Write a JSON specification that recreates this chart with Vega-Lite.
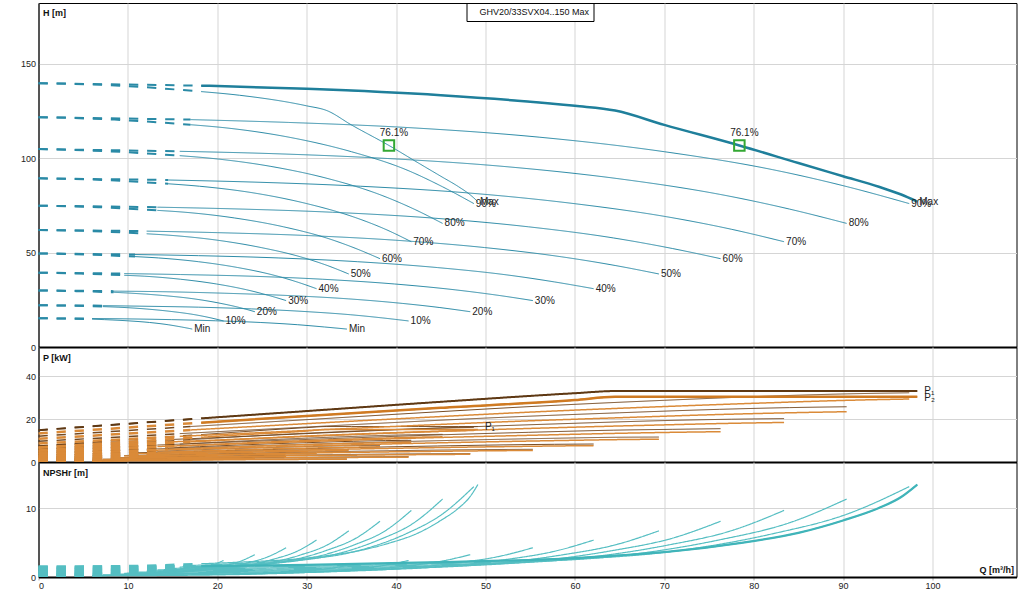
{
"$schema":"https://vega.github.io/schema/vega-lite/v6.json",
"background":"white",
"padding":{"left":19.5,"top":2,"right":10,"bottom":5},
"spacing":0,
"bounds":"flush",
"config":{
 "view":{"stroke":"black","strokeWidth":1},
 "font":"Liberation Sans",
 "axis":{"labelFont":"Liberation Sans","labelFontSize":9,"labelColor":"#222","titleFont":"Liberation Sans","titleColor":"#111","gridColor":"#d5d5d5","gridWidth":1,"domainColor":"black"},
 "text":{"font":"Liberation Sans","fontSize":10,"color":"#222"}
},
"datasets":{
"c":[
{"f":"R","s":"Max","d":"low","Q":0,"H":139.8,"P1":14.8,"P2":13.3,"N":1.5},
{"f":"R","s":"Max","d":"low","Q":18.2,"H":138.5,"P1":20.3,"P2":18.3,"N":1.58},
{"f":"R","s":"Max","d":"op","Q":18.2,"H":138.5,"P1":20.3,"P2":18.3,"N":1.58},
{"f":"R","s":"Max","d":"op","Q":30,"H":136.8,"P1":23.7,"P2":21.4,"N":1.75},
{"f":"R","s":"Max","d":"op","Q":45,"H":133.4,"P1":28.0,"P2":25.2,"N":2.15},
{"f":"R","s":"Max","d":"op","Q":60,"H":127.8,"P1":32.0,"P2":28.8,"N":2.75},
{"f":"R","s":"Max","d":"op","Q":64.5,"H":125.3,"P1":33.0,"P2":30.3,"N":3.1},
{"f":"R","s":"Max","d":"op","Q":70,"H":117.7,"P1":33.0,"P2":30.3,"N":3.6},
{"f":"R","s":"Max","d":"op","Q":78.4,"H":106.8,"P1":33.0,"P2":30.3,"N":4.9},
{"f":"R","s":"Max","d":"op","Q":85,"H":97.5,"P1":33.0,"P2":30.3,"N":6.4},
{"f":"R","s":"Max","d":"op","Q":90,"H":90.5,"P1":33.0,"P2":30.3,"N":8.2},
{"f":"R","s":"Max","d":"op","Q":94,"H":84.9,"P1":33.0,"P2":30.3,"N":10.0},
{"f":"R","s":"Max","d":"op","Q":96.5,"H":80.8,"P1":33.0,"P2":30.3,"N":11.6},
{"f":"R","s":"Max","d":"op","Q":98.3,"H":77,"P1":33.0,"P2":30.3,"N":13.4},
{"f":"L","s":"Max","d":"low","Q":0,"H":139.8,"P1":7.4,"P2":6.65,"N":1.5},
{"f":"L","s":"Max","d":"low","Q":9.1,"H":138.5,"P1":10.15,"P2":9.15,"N":1.58},
{"f":"L","s":"Max","d":"low","Q":18.2,"H":135.35,"P1":12.75,"P2":11.5,"N":1.92},
{"f":"L","s":"Max","d":"op","Q":18.2,"H":135.35,"P1":12.75,"P2":11.5,"N":1.92},
{"f":"L","s":"Max","d":"op","Q":22.5,"H":133.4,"P1":14.0,"P2":12.6,"N":2.15},
{"f":"L","s":"Max","d":"op","Q":30,"H":127.8,"P1":16.0,"P2":14.4,"N":2.75},
{"f":"L","s":"Max","d":"op","Q":32.25,"H":125.3,"P1":16.5,"P2":15.15,"N":3.1},
{"f":"L","s":"Max","d":"op","Q":35,"H":117.7,"P1":16.5,"P2":15.15,"N":3.6},
{"f":"L","s":"Max","d":"op","Q":39.2,"H":106.8,"P1":16.5,"P2":15.15,"N":4.9},
{"f":"L","s":"Max","d":"op","Q":42.5,"H":97.5,"P1":16.5,"P2":15.15,"N":6.4},
{"f":"L","s":"Max","d":"op","Q":45,"H":90.5,"P1":16.5,"P2":15.15,"N":8.2},
{"f":"L","s":"Max","d":"op","Q":47,"H":84.9,"P1":16.5,"P2":15.15,"N":10.0},
{"f":"L","s":"Max","d":"op","Q":48.25,"H":80.8,"P1":16.5,"P2":15.15,"N":11.6},
{"f":"L","s":"Max","d":"op","Q":49.15,"H":77,"P1":16.5,"P2":15.15,"N":13.4},

{"f":"R","s":"90%","d":"low","Q":0,"H":121.8,"P1":12.0,"P2":10.8,"N":1.31},
{"f":"R","s":"90%","d":"low","Q":17.0,"H":120.5,"P1":16.5,"P2":14.9,"N":1.37},
{"f":"R","s":"90%","d":"op","Q":17.0,"H":120.5,"P1":16.5,"P2":14.9,"N":1.37},
{"f":"R","s":"90%","d":"op","Q":28.0,"H":119.0,"P1":19.2,"P2":17.4,"N":1.52},
{"f":"R","s":"90%","d":"op","Q":42.0,"H":116.1,"P1":22.7,"P2":20.5,"N":1.87},
{"f":"R","s":"90%","d":"op","Q":56.0,"H":111.2,"P1":26.0,"P2":23.4,"N":2.39},
{"f":"R","s":"90%","d":"op","Q":70.0,"H":103.5,"P1":28.7,"P2":25.8,"N":3.57},
{"f":"R","s":"90%","d":"op","Q":82.1,"H":94.0,"P1":30.7,"P2":27.6,"N":6.26},
{"f":"R","s":"90%","d":"op","Q":90.5,"H":84.9,"P1":31.7,"P2":28.7,"N":9.14},
{"f":"R","s":"90%","d":"op","Q":97.4,"H":76.0,"P1":32.2,"P2":29.3,"N":13.1},
{"f":"L","s":"90%","d":"low","Q":0,"H":121.8,"P1":6.0,"P2":5.4,"N":1.31},
{"f":"L","s":"90%","d":"low","Q":8.5,"H":120.5,"P1":8.24,"P2":7.43,"N":1.37},
{"f":"L","s":"90%","d":"low","Q":17.0,"H":117.8,"P1":10.4,"P2":9.35,"N":1.67},
{"f":"L","s":"90%","d":"op","Q":17.0,"H":117.8,"P1":10.4,"P2":9.35,"N":1.67},
{"f":"L","s":"90%","d":"op","Q":21.0,"H":116.1,"P1":11.4,"P2":10.2,"N":1.87},
{"f":"L","s":"90%","d":"op","Q":28.0,"H":111.2,"P1":13.0,"P2":11.7,"N":2.39},
{"f":"L","s":"90%","d":"op","Q":35.0,"H":103.5,"P1":14.3,"P2":12.9,"N":3.57},
{"f":"L","s":"90%","d":"op","Q":41.1,"H":94.0,"P1":15.3,"P2":13.8,"N":6.26},
{"f":"L","s":"90%","d":"op","Q":45.2,"H":84.9,"P1":15.8,"P2":14.3,"N":9.14},
{"f":"L","s":"90%","d":"op","Q":48.7,"H":76.0,"P1":16.1,"P2":14.7,"N":13.1},

{"f":"R","s":"80%","d":"low","Q":0,"H":104.9,"P1":9.6,"P2":8.6,"N":1.12},
{"f":"R","s":"80%","d":"low","Q":15.8,"H":103.7,"P1":13.2,"P2":11.9,"N":1.18},
{"f":"R","s":"80%","d":"op","Q":15.8,"H":103.7,"P1":13.2,"P2":11.9,"N":1.18},
{"f":"R","s":"80%","d":"op","Q":26.0,"H":102.5,"P1":15.4,"P2":13.9,"N":1.31},
{"f":"R","s":"80%","d":"op","Q":39.0,"H":99.9,"P1":18.2,"P2":16.4,"N":1.61},
{"f":"R","s":"80%","d":"op","Q":52.0,"H":95.7,"P1":20.8,"P2":18.7,"N":2.06},
{"f":"R","s":"80%","d":"op","Q":65.0,"H":89.1,"P1":22.9,"P2":20.6,"N":3.07},
{"f":"R","s":"80%","d":"op","Q":76.2,"H":80.9,"P1":24.5,"P2":22.1,"N":5.39},
{"f":"R","s":"80%","d":"op","Q":84.0,"H":73.1,"P1":25.3,"P2":22.9,"N":7.86},
{"f":"R","s":"80%","d":"op","Q":90.4,"H":65.5,"P1":25.7,"P2":23.4,"N":11.3},
{"f":"L","s":"80%","d":"low","Q":0,"H":104.9,"P1":4.8,"P2":4.32,"N":1.12},
{"f":"L","s":"80%","d":"low","Q":7.9,"H":103.7,"P1":6.59,"P2":5.94,"N":1.18},
{"f":"L","s":"80%","d":"low","Q":15.8,"H":101.4,"P1":8.28,"P2":7.47,"N":1.44},
{"f":"L","s":"80%","d":"op","Q":15.8,"H":101.4,"P1":8.28,"P2":7.47,"N":1.44},
{"f":"L","s":"80%","d":"op","Q":19.5,"H":99.9,"P1":9.09,"P2":8.18,"N":1.61},
{"f":"L","s":"80%","d":"op","Q":26.0,"H":95.7,"P1":10.4,"P2":9.35,"N":2.06},
{"f":"L","s":"80%","d":"op","Q":32.5,"H":89.1,"P1":11.5,"P2":10.3,"N":3.07},
{"f":"L","s":"80%","d":"op","Q":38.1,"H":80.9,"P1":12.3,"P2":11.0,"N":5.39},
{"f":"L","s":"80%","d":"op","Q":42.0,"H":73.1,"P1":12.7,"P2":11.5,"N":7.86},
{"f":"L","s":"80%","d":"op","Q":45.2,"H":65.5,"P1":12.85,"P2":11.7,"N":11.3},

{"f":"R","s":"70%","d":"low","Q":0,"H":89.4,"P1":7.5,"P2":6.8,"N":0.96},
{"f":"R","s":"70%","d":"low","Q":14.5,"H":88.5,"P1":10.4,"P2":9.3,"N":1.01},
{"f":"R","s":"70%","d":"op","Q":14.5,"H":88.5,"P1":10.4,"P2":9.3,"N":1.01},
{"f":"R","s":"70%","d":"op","Q":24.0,"H":87.4,"P1":12.1,"P2":10.9,"N":1.12},
{"f":"R","s":"70%","d":"op","Q":36.0,"H":85.2,"P1":14.3,"P2":12.9,"N":1.37},
{"f":"R","s":"70%","d":"op","Q":47.9,"H":81.7,"P1":16.3,"P2":14.7,"N":1.76},
{"f":"R","s":"70%","d":"op","Q":59.9,"H":76.0,"P1":18.0,"P2":16.2,"N":2.62},
{"f":"R","s":"70%","d":"op","Q":70.3,"H":69.0,"P1":19.3,"P2":17.3,"N":4.60},
{"f":"R","s":"70%","d":"op","Q":77.5,"H":62.4,"P1":19.9,"P2":18.0,"N":6.71},
{"f":"R","s":"70%","d":"op","Q":83.4,"H":55.8,"P1":20.2,"P2":18.4,"N":9.65},
{"f":"L","s":"70%","d":"low","Q":0,"H":89.4,"P1":3.77,"P2":3.39,"N":0.96},
{"f":"L","s":"70%","d":"low","Q":7.3,"H":88.5,"P1":5.18,"P2":4.67,"N":1.01},
{"f":"L","s":"70%","d":"low","Q":14.5,"H":86.5,"P1":6.51,"P2":5.87,"N":1.23},
{"f":"L","s":"70%","d":"op","Q":14.5,"H":86.5,"P1":6.51,"P2":5.87,"N":1.23},
{"f":"L","s":"70%","d":"op","Q":18.0,"H":85.2,"P1":7.14,"P2":6.43,"N":1.37},
{"f":"L","s":"70%","d":"op","Q":24.0,"H":81.7,"P1":8.16,"P2":7.34,"N":1.76},
{"f":"L","s":"70%","d":"op","Q":30.0,"H":76.0,"P1":9.0,"P2":8.11,"N":2.62},
{"f":"L","s":"70%","d":"op","Q":35.2,"H":69.0,"P1":9.64,"P2":8.67,"N":4.60},
{"f":"L","s":"70%","d":"op","Q":38.8,"H":62.4,"P1":9.95,"P2":9.0,"N":6.71},
{"f":"L","s":"70%","d":"op","Q":41.7,"H":55.8,"P1":10.1,"P2":9.2,"N":9.65},

{"f":"R","s":"60%","d":"low","Q":0,"H":74.9,"P1":5.8,"P2":5.2,"N":0.80},
{"f":"R","s":"60%","d":"low","Q":13.3,"H":74.1,"P1":7.9,"P2":7.2,"N":0.85},
{"f":"R","s":"60%","d":"op","Q":13.3,"H":74.1,"P1":7.9,"P2":7.2,"N":0.85},
{"f":"R","s":"60%","d":"op","Q":21.9,"H":73.2,"P1":9.3,"P2":8.4,"N":0.94},
{"f":"R","s":"60%","d":"op","Q":32.9,"H":71.4,"P1":10.9,"P2":9.9,"N":1.15},
{"f":"R","s":"60%","d":"op","Q":43.9,"H":68.4,"P1":12.5,"P2":11.3,"N":1.47},
{"f":"R","s":"60%","d":"op","Q":54.8,"H":63.7,"P1":13.8,"P2":12.4,"N":2.19},
{"f":"R","s":"60%","d":"op","Q":64.3,"H":57.8,"P1":14.8,"P2":13.3,"N":3.85},
{"f":"R","s":"60%","d":"op","Q":70.9,"H":52.2,"P1":15.2,"P2":13.8,"N":5.62},
{"f":"R","s":"60%","d":"op","Q":76.3,"H":46.8,"P1":15.5,"P2":14.1,"N":8.08},
{"f":"L","s":"60%","d":"low","Q":0,"H":74.9,"P1":2.89,"P2":2.60,"N":0.80},
{"f":"L","s":"60%","d":"low","Q":6.7,"H":74.1,"P1":3.97,"P2":3.58,"N":0.85},
{"f":"L","s":"60%","d":"low","Q":13.3,"H":72.4,"P1":4.99,"P2":4.50,"N":1.03},
{"f":"L","s":"60%","d":"op","Q":13.3,"H":72.4,"P1":4.99,"P2":4.50,"N":1.03},
{"f":"L","s":"60%","d":"op","Q":16.4,"H":71.4,"P1":5.47,"P2":4.93,"N":1.15},
{"f":"L","s":"60%","d":"op","Q":21.9,"H":68.4,"P1":6.26,"P2":5.63,"N":1.47},
{"f":"L","s":"60%","d":"op","Q":27.4,"H":63.7,"P1":6.90,"P2":6.22,"N":2.19},
{"f":"L","s":"60%","d":"op","Q":32.2,"H":57.8,"P1":7.39,"P2":6.65,"N":3.85},
{"f":"L","s":"60%","d":"op","Q":35.5,"H":52.2,"P1":7.62,"P2":6.90,"N":5.62},
{"f":"L","s":"60%","d":"op","Q":38.2,"H":46.8,"P1":7.74,"P2":7.06,"N":8.08},

{"f":"R","s":"50%","d":"low","Q":0,"H":62.0,"P1":4.35,"P2":3.91,"N":0.66},
{"f":"R","s":"50%","d":"low","Q":12.1,"H":61.4,"P1":5.97,"P2":5.38,"N":0.70},
{"f":"R","s":"50%","d":"op","Q":12.1,"H":61.4,"P1":5.97,"P2":5.38,"N":0.70},
{"f":"R","s":"50%","d":"op","Q":20.0,"H":60.6,"P1":6.97,"P2":6.29,"N":0.78},
{"f":"R","s":"50%","d":"op","Q":29.9,"H":59.1,"P1":8.23,"P2":7.41,"N":0.95},
{"f":"R","s":"50%","d":"op","Q":39.9,"H":56.6,"P1":9.41,"P2":8.47,"N":1.22},
{"f":"R","s":"50%","d":"op","Q":49.9,"H":52.7,"P1":10.4,"P2":9.35,"N":1.82},
{"f":"R","s":"50%","d":"op","Q":58.5,"H":47.8,"P1":11.1,"P2":10.0,"N":3.19},
{"f":"R","s":"50%","d":"op","Q":64.5,"H":43.2,"P1":11.5,"P2":10.4,"N":4.65},
{"f":"R","s":"50%","d":"op","Q":69.4,"H":38.7,"P1":11.6,"P2":10.6,"N":6.69},
{"f":"L","s":"50%","d":"low","Q":0,"H":62.0,"P1":2.18,"P2":1.96,"N":0.66},
{"f":"L","s":"50%","d":"low","Q":6.1,"H":61.4,"P1":2.98,"P2":2.69,"N":0.70},
{"f":"L","s":"50%","d":"low","Q":12.1,"H":60.0,"P1":3.75,"P2":3.38,"N":0.85},
{"f":"L","s":"50%","d":"op","Q":12.1,"H":60.0,"P1":3.75,"P2":3.38,"N":0.85},
{"f":"L","s":"50%","d":"op","Q":15.0,"H":59.1,"P1":4.12,"P2":3.70,"N":0.95},
{"f":"L","s":"50%","d":"op","Q":20.0,"H":56.6,"P1":4.70,"P2":4.23,"N":1.22},
{"f":"L","s":"50%","d":"op","Q":24.9,"H":52.7,"P1":5.19,"P2":4.67,"N":1.82},
{"f":"L","s":"50%","d":"op","Q":29.3,"H":47.8,"P1":5.56,"P2":5.0,"N":3.19},
{"f":"L","s":"50%","d":"op","Q":32.3,"H":43.2,"P1":5.73,"P2":5.19,"N":4.65},
{"f":"L","s":"50%","d":"op","Q":34.7,"H":38.7,"P1":5.82,"P2":5.31,"N":6.69},

{"f":"R","s":"40%","d":"low","Q":0,"H":49.6,"P1":3.12,"P2":2.81,"N":0.53},
{"f":"R","s":"40%","d":"low","Q":10.8,"H":49.0,"P1":4.28,"P2":3.86,"N":0.56},
{"f":"R","s":"40%","d":"op","Q":10.8,"H":49.0,"P1":4.28,"P2":3.86,"N":0.56},
{"f":"R","s":"40%","d":"op","Q":17.9,"H":48.4,"P1":5.0,"P2":4.52,"N":0.62},
{"f":"R","s":"40%","d":"op","Q":26.8,"H":47.2,"P1":5.91,"P2":5.32,"N":0.76},
{"f":"R","s":"40%","d":"op","Q":35.7,"H":45.2,"P1":6.75,"P2":6.08,"N":0.97},
{"f":"R","s":"40%","d":"op","Q":44.6,"H":42.1,"P1":7.45,"P2":6.71,"N":1.45},
{"f":"R","s":"40%","d":"op","Q":52.4,"H":38.2,"P1":7.98,"P2":7.17,"N":2.55},
{"f":"R","s":"40%","d":"op","Q":57.7,"H":34.5,"P1":8.23,"P2":7.45,"N":3.72},
{"f":"R","s":"40%","d":"op","Q":62.1,"H":30.9,"P1":8.36,"P2":7.62,"N":5.35},
{"f":"L","s":"40%","d":"low","Q":0,"H":49.6,"P1":1.56,"P2":1.40,"N":0.53},
{"f":"L","s":"40%","d":"low","Q":5.4,"H":49.0,"P1":2.14,"P2":1.93,"N":0.56},
{"f":"L","s":"40%","d":"low","Q":10.8,"H":47.9,"P1":2.69,"P2":2.43,"N":0.68},
{"f":"L","s":"40%","d":"op","Q":10.8,"H":47.9,"P1":2.69,"P2":2.43,"N":0.68},
{"f":"L","s":"40%","d":"op","Q":13.4,"H":47.2,"P1":2.95,"P2":2.66,"N":0.76},
{"f":"L","s":"40%","d":"op","Q":17.9,"H":45.2,"P1":3.38,"P2":3.04,"N":0.97},
{"f":"L","s":"40%","d":"op","Q":22.3,"H":42.1,"P1":3.72,"P2":3.35,"N":1.45},
{"f":"L","s":"40%","d":"op","Q":26.2,"H":38.2,"P1":3.99,"P2":3.59,"N":2.55},
{"f":"L","s":"40%","d":"op","Q":28.9,"H":34.5,"P1":4.11,"P2":3.72,"N":3.72},
{"f":"L","s":"40%","d":"op","Q":31.1,"H":30.9,"P1":4.18,"P2":3.81,"N":5.35},

{"f":"R","s":"30%","d":"low","Q":0,"H":39.4,"P1":2.21,"P2":1.98,"N":0.42},
{"f":"R","s":"30%","d":"low","Q":9.6,"H":38.9,"P1":3.02,"P2":2.73,"N":0.44},
{"f":"R","s":"30%","d":"op","Q":9.6,"H":38.9,"P1":3.02,"P2":2.73,"N":0.44},
{"f":"R","s":"30%","d":"op","Q":15.9,"H":38.4,"P1":3.53,"P2":3.19,"N":0.49},
{"f":"R","s":"30%","d":"op","Q":23.9,"H":37.5,"P1":4.17,"P2":3.75,"N":0.60},
{"f":"R","s":"30%","d":"op","Q":31.8,"H":35.9,"P1":4.77,"P2":4.29,"N":0.77},
{"f":"R","s":"30%","d":"op","Q":39.8,"H":33.4,"P1":5.26,"P2":4.74,"N":1.15},
{"f":"R","s":"30%","d":"op","Q":46.6,"H":30.3,"P1":5.63,"P2":5.07,"N":2.02},
{"f":"R","s":"30%","d":"op","Q":51.4,"H":27.4,"P1":5.81,"P2":5.26,"N":2.95},
{"f":"R","s":"30%","d":"op","Q":55.3,"H":24.6,"P1":5.90,"P2":5.38,"N":4.24},
{"f":"L","s":"30%","d":"low","Q":0,"H":39.4,"P1":1.10,"P2":0.99,"N":0.42},
{"f":"L","s":"30%","d":"low","Q":4.8,"H":38.9,"P1":1.51,"P2":1.36,"N":0.44},
{"f":"L","s":"30%","d":"low","Q":9.6,"H":38.0,"P1":1.90,"P2":1.71,"N":0.54},
{"f":"L","s":"30%","d":"op","Q":9.6,"H":38.0,"P1":1.90,"P2":1.71,"N":0.54},
{"f":"L","s":"30%","d":"op","Q":11.9,"H":37.5,"P1":2.09,"P2":1.88,"N":0.60},
{"f":"L","s":"30%","d":"op","Q":15.9,"H":35.9,"P1":2.38,"P2":2.15,"N":0.77},
{"f":"L","s":"30%","d":"op","Q":19.9,"H":33.4,"P1":2.63,"P2":2.37,"N":1.15},
{"f":"L","s":"30%","d":"op","Q":23.3,"H":30.3,"P1":2.82,"P2":2.53,"N":2.02},
{"f":"L","s":"30%","d":"op","Q":25.7,"H":27.4,"P1":2.91,"P2":2.63,"N":2.95},
{"f":"L","s":"30%","d":"op","Q":27.7,"H":24.6,"P1":2.95,"P2":2.69,"N":4.24},

{"f":"R","s":"20%","d":"low","Q":0,"H":30.0,"P1":1.47,"P2":1.32,"N":0.32},
{"f":"R","s":"20%","d":"low","Q":8.4,"H":29.6,"P1":2.02,"P2":1.82,"N":0.34},
{"f":"R","s":"20%","d":"op","Q":8.4,"H":29.6,"P1":2.02,"P2":1.82,"N":0.34},
{"f":"R","s":"20%","d":"op","Q":13.9,"H":29.3,"P1":2.35,"P2":2.13,"N":0.37},
{"f":"R","s":"20%","d":"op","Q":20.8,"H":28.5,"P1":2.78,"P2":2.50,"N":0.46},
{"f":"R","s":"20%","d":"op","Q":27.8,"H":27.3,"P1":3.18,"P2":2.86,"N":0.59},
{"f":"R","s":"20%","d":"op","Q":34.7,"H":25.5,"P1":3.51,"P2":3.16,"N":0.88},
{"f":"R","s":"20%","d":"op","Q":40.7,"H":23.1,"P1":3.75,"P2":3.38,"N":1.54},
{"f":"R","s":"20%","d":"op","Q":44.9,"H":20.9,"P1":3.87,"P2":3.51,"N":2.25},
{"f":"R","s":"20%","d":"op","Q":48.3,"H":18.7,"P1":3.93,"P2":3.58,"N":3.23},
{"f":"L","s":"20%","d":"low","Q":0,"H":30.0,"P1":0.74,"P2":0.66,"N":0.32},
{"f":"L","s":"20%","d":"low","Q":4.2,"H":29.6,"P1":1.01,"P2":0.91,"N":0.34},
{"f":"L","s":"20%","d":"low","Q":8.4,"H":29.0,"P1":1.27,"P2":1.14,"N":0.41},
{"f":"L","s":"20%","d":"op","Q":8.4,"H":29.0,"P1":1.27,"P2":1.14,"N":0.41},
{"f":"L","s":"20%","d":"op","Q":10.4,"H":28.5,"P1":1.39,"P2":1.25,"N":0.46},
{"f":"L","s":"20%","d":"op","Q":13.9,"H":27.3,"P1":1.59,"P2":1.43,"N":0.59},
{"f":"L","s":"20%","d":"op","Q":17.4,"H":25.5,"P1":1.75,"P2":1.58,"N":0.88},
{"f":"L","s":"20%","d":"op","Q":20.4,"H":23.1,"P1":1.88,"P2":1.69,"N":1.54},
{"f":"L","s":"20%","d":"op","Q":22.5,"H":20.9,"P1":1.94,"P2":1.75,"N":2.25},
{"f":"L","s":"20%","d":"op","Q":24.2,"H":18.7,"P1":1.97,"P2":1.79,"N":3.23},

{"f":"R","s":"10%","d":"low","Q":0,"H":22.1,"P1":0.93,"P2":0.83,"N":0.24},
{"f":"R","s":"10%","d":"low","Q":7.2,"H":21.9,"P1":1.27,"P2":1.15,"N":0.25},
{"f":"R","s":"10%","d":"op","Q":7.2,"H":21.9,"P1":1.27,"P2":1.15,"N":0.25},
{"f":"R","s":"10%","d":"op","Q":11.9,"H":21.6,"P1":1.48,"P2":1.34,"N":0.28},
{"f":"R","s":"10%","d":"op","Q":17.9,"H":21.1,"P1":1.75,"P2":1.58,"N":0.34},
{"f":"R","s":"10%","d":"op","Q":23.8,"H":20.2,"P1":2.0,"P2":1.80,"N":0.43},
{"f":"R","s":"10%","d":"op","Q":29.8,"H":18.8,"P1":2.21,"P2":1.99,"N":0.65},
{"f":"R","s":"10%","d":"op","Q":34.9,"H":17.1,"P1":2.37,"P2":2.13,"N":1.14},
{"f":"R","s":"10%","d":"op","Q":38.5,"H":15.4,"P1":2.44,"P2":2.21,"N":1.66},
{"f":"R","s":"10%","d":"op","Q":41.4,"H":13.8,"P1":2.48,"P2":2.26,"N":2.39},
{"f":"L","s":"10%","d":"low","Q":0,"H":22.1,"P1":0.46,"P2":0.42,"N":0.24},
{"f":"L","s":"10%","d":"low","Q":3.6,"H":21.9,"P1":0.64,"P2":0.57,"N":0.25},
{"f":"L","s":"10%","d":"low","Q":7.2,"H":21.4,"P1":0.80,"P2":0.72,"N":0.30},
{"f":"L","s":"10%","d":"op","Q":7.2,"H":21.4,"P1":0.80,"P2":0.72,"N":0.30},
{"f":"L","s":"10%","d":"op","Q":8.9,"H":21.1,"P1":0.88,"P2":0.79,"N":0.34},
{"f":"L","s":"10%","d":"op","Q":11.9,"H":20.2,"P1":1.0,"P2":0.90,"N":0.43},
{"f":"L","s":"10%","d":"op","Q":14.9,"H":18.8,"P1":1.10,"P2":1.0,"N":0.65},
{"f":"L","s":"10%","d":"op","Q":17.5,"H":17.1,"P1":1.18,"P2":1.06,"N":1.14},
{"f":"L","s":"10%","d":"op","Q":19.3,"H":15.4,"P1":1.22,"P2":1.10,"N":1.66},
{"f":"L","s":"10%","d":"op","Q":20.7,"H":13.8,"P1":1.24,"P2":1.13,"N":2.39},

{"f":"R","s":"Min","d":"low","Q":0,"H":15.2,"P1":0.53,"P2":0.48,"N":0.16},
{"f":"R","s":"Min","d":"low","Q":6.0,"H":15.1,"P1":0.73,"P2":0.66,"N":0.17},
{"f":"R","s":"Min","d":"op","Q":6.0,"H":15.1,"P1":0.73,"P2":0.66,"N":0.17},
{"f":"R","s":"Min","d":"op","Q":9.9,"H":14.9,"P1":0.85,"P2":0.77,"N":0.19},
{"f":"R","s":"Min","d":"op","Q":14.9,"H":14.5,"P1":1.0,"P2":0.90,"N":0.23},
{"f":"R","s":"Min","d":"op","Q":19.8,"H":13.9,"P1":1.15,"P2":1.03,"N":0.30},
{"f":"R","s":"Min","d":"op","Q":24.8,"H":13.0,"P1":1.27,"P2":1.14,"N":0.45},
{"f":"R","s":"Min","d":"op","Q":29.0,"H":11.8,"P1":1.36,"P2":1.22,"N":0.78},
{"f":"R","s":"Min","d":"op","Q":32.0,"H":10.6,"P1":1.40,"P2":1.27,"N":1.14},
{"f":"R","s":"Min","d":"op","Q":34.5,"H":9.5,"P1":1.42,"P2":1.30,"N":1.65},
{"f":"L","s":"Min","d":"low","Q":0,"H":15.2,"P1":0.27,"P2":0.24,"N":0.16},
{"f":"L","s":"Min","d":"low","Q":3.0,"H":15.1,"P1":0.37,"P2":0.33,"N":0.17},
{"f":"L","s":"Min","d":"low","Q":6.0,"H":14.75,"P1":0.46,"P2":0.41,"N":0.21},
{"f":"L","s":"Min","d":"op","Q":6.0,"H":14.75,"P1":0.46,"P2":0.41,"N":0.21},
{"f":"L","s":"Min","d":"op","Q":7.4,"H":14.5,"P1":0.50,"P2":0.45,"N":0.23},
{"f":"L","s":"Min","d":"op","Q":9.9,"H":13.9,"P1":0.58,"P2":0.52,"N":0.30},
{"f":"L","s":"Min","d":"op","Q":12.4,"H":13.0,"P1":0.64,"P2":0.57,"N":0.45},
{"f":"L","s":"Min","d":"op","Q":14.5,"H":11.8,"P1":0.68,"P2":0.61,"N":0.78},
{"f":"L","s":"Min","d":"op","Q":16.0,"H":10.6,"P1":0.70,"P2":0.64,"N":1.14},
{"f":"L","s":"Min","d":"op","Q":17.2,"H":9.5,"P1":0.71,"P2":0.65,"N":1.65}
],
"labH":[
{"Q":97.4,"H":76,"t":"90%"},{"Q":98.3,"H":77,"t":"Max"},{"Q":90.4,"H":65.5,"t":"80%"},{"Q":83.4,"H":55.8,"t":"70%"},{"Q":76.3,"H":46.8,"t":"60%"},{"Q":69.4,"H":38.7,"t":"50%"},{"Q":62.1,"H":30.9,"t":"40%"},{"Q":55.3,"H":24.6,"t":"30%"},{"Q":48.3,"H":18.7,"t":"20%"},{"Q":41.4,"H":13.8,"t":"10%"},{"Q":34.5,"H":9.5,"t":"Min"},
{"Q":48.7,"H":76,"t":"90%"},{"Q":49.15,"H":77,"t":"Max"},{"Q":45.2,"H":65.5,"t":"80%"},{"Q":41.7,"H":55.8,"t":"70%"},{"Q":38.2,"H":46.8,"t":"60%"},{"Q":34.7,"H":38.7,"t":"50%"},{"Q":31.1,"H":30.9,"t":"40%"},{"Q":27.7,"H":24.6,"t":"30%"},{"Q":24.2,"H":18.7,"t":"20%"},{"Q":20.7,"H":13.8,"t":"10%"},{"Q":17.2,"H":9.5,"t":"Min"}
],
"eff":[{"Q":39.2,"H":106.8,"t":"76.1%"},{"Q":78.4,"H":106.8,"t":"76.1%"}],
"labP":[{"Q":98.3,"P1":33.0,"t":"P₁"},{"Q":98.3,"P1":29.8,"t":"P₂"},{"Q":49.15,"P1":16.3,"t":"P₁"}]
},
"vconcat":[
{"width":978,"height":344,
 "layer":[
  {"data":{"name":"c"},"mark":{"type":"line","color":"#2a8aa6","interpolate":"monotone"},
   "encoding":{
    "x":{"field":"Q","type":"quantitative","scale":{"domain":[0,109.4],"nice":false,"zero":false},"axis":{"values":[0,10,20,30,40,50,60,70,80,90,100],"labels":false,"ticks":false,"title":null,"grid":true,"domainWidth":2}},
    "y":{"field":"H","type":"quantitative","scale":{"domain":[0,182.3],"nice":false},"axis":{"values":[0,50,100,150],"grid":true,"ticks":false,"labelPadding":3,"title":"H [m]","titleAngle":0,"titleX":4,"titleY":9,"titleAlign":"left","titleBaseline":"middle","titleFontWeight":"bold","titleFontSize":9}},
    "detail":[{"field":"f"},{"field":"s"},{"field":"d"}],
    "strokeDash":{"condition":{"test":"datum.d==='low'","value":[9.3,8.8]},"value":[1,0]},
    "strokeWidth":{"condition":{"test":"datum.d==='low'","value":2},"value":1}
   }},
  {"data":{"name":"c"},"transform":[{"filter":"datum.f==='R' && datum.s==='Max' && datum.d==='op'"}],"mark":{"type":"line","color":"#1f7f9b","strokeWidth":2.5,"interpolate":"monotone"},
   "encoding":{"x":{"field":"Q","type":"quantitative"},"y":{"field":"H","type":"quantitative"}}},
  {"data":{"name":"labH"},"mark":{"type":"text","align":"left","baseline":"middle","dx":2,"fontSize":10,"color":"#222"},
   "encoding":{"x":{"field":"Q","type":"quantitative"},"y":{"field":"H","type":"quantitative"},"text":{"field":"t"}}},
  {"data":{"name":"eff"},"mark":{"type":"point","shape":"square","filled":false,"color":"#33a833","strokeWidth":2,"size":110,"opacity":1},
   "encoding":{"x":{"field":"Q","type":"quantitative"},"y":{"field":"H","type":"quantitative"}}},
  {"data":{"name":"eff"},"mark":{"type":"text","dx":5,"dy":-12,"fontSize":10,"color":"#222"},
   "encoding":{"x":{"field":"Q","type":"quantitative"},"y":{"field":"H","type":"quantitative"},"text":{"field":"t"}}},
  {"data":{"values":[{"Q":0,"H":0}]},"mark":{"type":"point","opacity":0},
   "encoding":{"x":{"field":"Q","type":"quantitative"},"y":{"field":"H","type":"quantitative"},
    "shape":{"datum":"GHV20/33SVX04..150 Max","legend":{"orient":"none","legendX":428,"legendY":0,"title":null,"strokeColor":"black","fillColor":"white","padding":4,"symbolOpacity":0,"symbolSize":0,"symbolStrokeWidth":0,"labelOffset":0,"labelFont":"Liberation Sans","labelFontSize":9,"labelColor":"#111"}}}}
 ]},
{"width":978,"height":115,
 "layer":[
  {"data":{"name":"c"},"mark":{"type":"line","color":"#74481f","interpolate":"monotone"},
   "encoding":{
    "x":{"field":"Q","type":"quantitative","scale":{"domain":[0,109.4],"nice":false,"zero":false},"axis":{"values":[0,10,20,30,40,50,60,70,80,90,100],"labels":false,"ticks":false,"title":null,"grid":true,"domainWidth":2}},
    "y":{"field":"P1","type":"quantitative","scale":{"domain":[0,53.5],"nice":false},"axis":{"values":[0,20,40],"grid":true,"ticks":false,"labelPadding":3,"title":"P [kW]","titleAngle":0,"titleX":4,"titleY":10,"titleAlign":"left","titleBaseline":"middle","titleFontWeight":"bold","titleFontSize":9}},
    "detail":[{"field":"f"},{"field":"s"},{"field":"d"}],
    "strokeDash":{"condition":{"test":"datum.d==='low'","value":[9.3,8.8]},"value":[1,0]},
    "strokeWidth":{"condition":{"test":"datum.d==='low'","value":1.5},"value":1}
   }},
  {"data":{"name":"c"},"mark":{"type":"line","color":"#da8a38","interpolate":"monotone"},
   "encoding":{
    "x":{"field":"Q","type":"quantitative"},
    "y":{"field":"P2","type":"quantitative"},
    "detail":[{"field":"f"},{"field":"s"},{"field":"d"}],
    "strokeDash":{"condition":{"test":"datum.d==='low'","value":[9.3,8.8]},"value":[1,0]},
    "strokeWidth":{"condition":{"test":"datum.d==='low'","value":2.5},"value":1.5}
   }},
  {"data":{"name":"c"},"transform":[{"filter":"datum.f==='R' && datum.s==='Max'"}],"mark":{"type":"line","color":"#5e3813","strokeWidth":2,"interpolate":"monotone"},
   "encoding":{"x":{"field":"Q","type":"quantitative"},"y":{"field":"P1","type":"quantitative"},"detail":{"field":"d"},
    "strokeDash":{"condition":{"test":"datum.d==='low'","value":[9.3,8.8]},"value":[1,0]}}},
  {"data":{"name":"c"},"transform":[{"filter":"datum.f==='R' && datum.s==='Max' && datum.d==='op'"}],"mark":{"type":"line","color":"#cf7a22","strokeWidth":2.5,"interpolate":"monotone"},
   "encoding":{"x":{"field":"Q","type":"quantitative"},"y":{"field":"P2","type":"quantitative"}}},
  {"data":{"name":"labP"},"mark":{"type":"text","align":"left","baseline":"middle","dx":7,"fontSize":10,"color":"#222"},
   "encoding":{"x":{"field":"Q","type":"quantitative"},"y":{"field":"P1","type":"quantitative"},"text":{"field":"t"}}}
 ]},
{"width":978,"height":115,
 "layer":[
  {"data":{"name":"c"},"mark":{"type":"line","color":"#55bec2","interpolate":"monotone"},
   "encoding":{
    "x":{"field":"Q","type":"quantitative","scale":{"domain":[0,109.4],"nice":false,"zero":false},"axis":{"values":[0,10,20,30,40,50,60,70,80,90,100],"labels":true,"ticks":true,"tickSize":3,"tickColor":"#aaa","labelPadding":1,"grid":true,"domainWidth":2,"title":"Q [m³/h]","titleX":975,"titleY":-8,"titleAlign":"right","titleBaseline":"middle","titleFontWeight":"bold","titleFontSize":9}},
    "y":{"field":"N","type":"quantitative","scale":{"domain":[0,16.67],"nice":false},"axis":{"values":[0,10],"grid":true,"ticks":false,"labelPadding":3,"title":"NPSHr [m]","titleAngle":0,"titleX":4,"titleY":10,"titleAlign":"left","titleBaseline":"middle","titleFontWeight":"bold","titleFontSize":9}},
    "detail":[{"field":"f"},{"field":"s"},{"field":"d"}],
    "strokeDash":{"condition":{"test":"datum.d==='low'","value":[9.3,8.8]},"value":[1,0]},
    "strokeWidth":{"condition":{"test":"datum.d==='low'","value":2.2},"value":1.2}
   }},
  {"data":{"name":"c"},"transform":[{"filter":"datum.f==='R' && datum.s==='Max' && datum.d==='op'"}],"mark":{"type":"line","color":"#40b4b9","strokeWidth":2.2,"interpolate":"monotone"},
   "encoding":{"x":{"field":"Q","type":"quantitative"},"y":{"field":"N","type":"quantitative"}}}
 ]}
]
}
